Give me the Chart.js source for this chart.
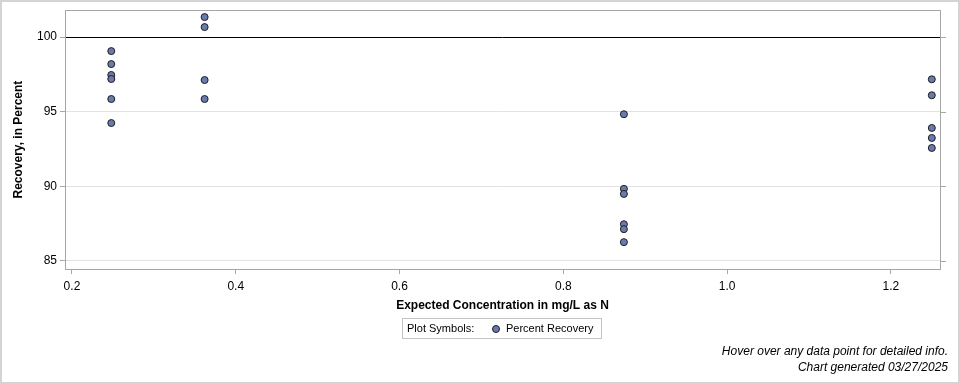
<!DOCTYPE html>
<html>
<head>
<meta charset="utf-8">
<script src="https://cdn.jsdelivr.net/npm/chart.js@4"></script>
<style>
  html, body { margin: 0; padding: 0; background: #fff; }
  #wrap { width: 960px; height: 384px; }
</style>
</head>
<body>
<div id="wrap"><canvas id="chart" width="960" height="384"></canvas></div>
<script>
// --- DATA ---
const expectedConc = [0.248, 0.248, 0.248, 0.248, 0.248, 0.248,
                      0.362, 0.362, 0.362, 0.362,
                      0.874, 0.874, 0.874, 0.874, 0.874, 0.874,
                      1.25, 1.25, 1.25, 1.25, 1.25]
const percentRecovery = [99.06, 98.19, 97.46, 97.19, 95.85, 94.24,
                         101.34, 100.67, 97.12, 95.85,
                         94.83, 89.83, 89.49, 87.46, 87.13, 86.26,
                         97.17, 96.1, 93.91, 93.24, 92.57]
const xTicks = [0.2, 0.4, 0.6, 0.8, 1.0, 1.2]
const yTicks = [85, 90, 95, 100]
const referenceLine = 100

const seriesName = 'Percent Recovery'
const xTitle = 'Expected Concentration in mg/L as N'
const yTitle = 'Recovery, in Percent'
const footerLines = ['Hover over any data point for detailed info.', 'Chart generated 03/27/2025']

const pointFill = '#6b7aae'
const pointEdge = '#1e1e1e'
const fontFamily = '"Liberation Sans", Arial, sans-serif'

// --- PLUGINS ---
const decorations = {
    id: 'decorations',
    beforeDatasetsDraw(chart){
        const {ctx, chartArea, scales} = chart
        const y = Math.round(scales.y.getPixelForValue(referenceLine)) + 0.5
        ctx.save()
        ctx.strokeStyle = '#000'
        ctx.lineWidth = 1
        ctx.beginPath()
        ctx.moveTo(chartArea.left, y)
        ctx.lineTo(chartArea.right, y)
        ctx.stroke()
        ctx.restore()
    },
    afterDraw(chart){
        const {ctx, chartArea, scales} = chart
        ctx.save()

        // plot frame
        ctx.strokeStyle = '#a6a6a6'
        ctx.lineWidth = 1
        ctx.strokeRect(Math.round(chartArea.left) + 0.5, Math.round(chartArea.top) + 0.5,
            Math.round(chartArea.right - chartArea.left), Math.round(chartArea.bottom - chartArea.top))

        // right side tick marks
        ctx.beginPath()
        yTicks.forEach(v => {
            const py = Math.round(scales.y.getPixelForValue(v)) + 0.5
            ctx.moveTo(chartArea.right, py)
            ctx.lineTo(chartArea.right + 6, py)
        })
        ctx.stroke()

        // outer border
        ctx.strokeStyle = '#d4d4d4'
        ctx.lineWidth = 2
        ctx.strokeRect(1, 1, chart.width - 2, chart.height - 2)

        // legend box
        ctx.strokeStyle = '#c4c4c4'
        ctx.lineWidth = 1
        ctx.strokeRect(402.5, 318.5, 199, 20)
        ctx.fillStyle = '#000'
        ctx.font = '11px ' + fontFamily
        ctx.textBaseline = 'middle'
        ctx.textAlign = 'left'
        ctx.fillText('Plot Symbols:', 407, 329)
        ctx.fillText(seriesName, 506, 329)
        ctx.beginPath()
        ctx.arc(496, 329, 3.5, 0, Math.PI * 2)
        ctx.fillStyle = pointFill
        ctx.fill()
        ctx.strokeStyle = pointEdge
        ctx.stroke()

        // footer
        ctx.fillStyle = '#000'
        ctx.font = 'italic 12px ' + fontFamily
        ctx.textAlign = 'right'
        ctx.fillText(footerLines[0], 948, 352)
        ctx.fillText(footerLines[1], 948, 368)
        ctx.restore()
    }
}

// --- CHART ---
function initChart(){
    const ctx = document.getElementById('chart').getContext('2d')

    new Chart(ctx, {
        type: 'scatter',
        data: {
            datasets: [{
                label: seriesName,
                data: expectedConc.map((x, i) => ({x: x, y: percentRecovery[i]})),
                pointRadius: 3.5,
                pointHoverRadius: 4.5,
                pointBackgroundColor: pointFill,
                pointBorderColor: pointEdge,
                pointBorderWidth: 1
            }]
        },
        options: {
            responsive: false,
            animation: false,
            layout: { padding: { left: 0, right: 20, top: 10, bottom: 70 } },
            plugins: {
                legend: { display: false },
                tooltip: { enabled: true }
            },
            scales: {
                x: {
                    type: 'linear',
                    min: 0.1915,
                    max: 1.26,
                    afterBuildTicks: scale => { scale.ticks = xTicks.map(v => ({value: v})) },
                    afterFit: scale => { scale.height = 45 },
                    border: { display: false },
                    grid: { drawOnChartArea: false, tickLength: 5, color: '#a6a6a6' },
                    ticks: {
                        color: '#000',
                        font: { family: fontFamily, size: 12 },
                        padding: 5,
                        maxRotation: 0,
                        callback: v => Number(v).toFixed(1)
                    },
                    title: {
                        display: true,
                        text: xTitle,
                        color: '#000',
                        font: { family: fontFamily, size: 12, weight: 'bold' },
                        padding: { top: 4, bottom: 1 }
                    }
                },
                y: {
                    min: 84.46,
                    max: 101.8,
                    afterBuildTicks: scale => { scale.ticks = yTicks.map(v => ({value: v})) },
                    afterFit: scale => { scale.width = 65 },
                    border: { display: false },
                    grid: {
                        tickLength: 5,
                        color: ctx => ctx.tick && ctx.tick.value === referenceLine ? 'rgba(0,0,0,0)' : '#e2e2e2',
                        tickColor: '#a6a6a6'
                    },
                    ticks: {
                        color: '#000',
                        font: { family: fontFamily, size: 12 },
                        padding: 3
                    },
                    title: {
                        display: true,
                        text: yTitle,
                        color: '#000',
                        font: { family: fontFamily, size: 12, weight: 'bold' },
                        padding: { top: 11, bottom: 4 }
                    }
                }
            }
        },
        plugins: [decorations]
    })
}

initChart()
</script>
</body>
</html>
